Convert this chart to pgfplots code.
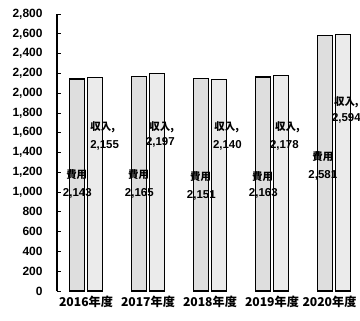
\documentclass[border=0pt]{standalone}
\usepackage{pgfplots}
\pgfplotsset{compat=1.18}
\usepackage{fontspec}
\setmainfont{Liberation Sans}
\newfontfamily\cjk{Noto Sans CJK JP}

\tikzset{
  lbl/.style={font=\cjk\bfseries\fontsize{10.5}{11}\selectfont, inner sep=0.5pt},
  num/.style={font=\bfseries\fontsize{11.5}{12}\selectfont, inner sep=0.5pt},
}

% 費用 (expenses) and 収入 (income) by fiscal year
\pgfplotstableread{
x exp inc
0 2143 2155
1 2165 2197
2 2151 2140
3 2163 2178
4 2581 2594
}\fintable

\begin{document}
\begin{tikzpicture}[x=1bp,y=1bp]
\useasboundingbox (-57bp,-30bp) rectangle (303bp,291bp);
\begin{axis}[
  at={(0,0)}, anchor=south west,
  scale only axis,
  width=303bp, height=277bp,
  xmin=-0.468, xmax=4.42,
  ymin=0, ymax=2800,
  axis y line=left,
  axis x line=bottom,
  x axis line style={draw=none},
  y axis line style={line width=1.3pt, -},
  xtick=data,
  xticklabels={2016年度,2017年度,2018年度,2019年度,2020年度\hspace*{9bp}},
  xticklabel style={font=\cjk\bfseries\fontsize{12.2}{13}\selectfont, yshift=-2bp},
  xtick style={draw=none},
  ytick={0,200,...,2800},
  scaled y ticks=false,
  tick align=inside,
  major tick length=4bp,
  ytick style={line width=0.8pt, black},
  yticklabel style={font=\bfseries\fontsize{12}{12}\selectfont, xshift=-11bp,
    /pgf/number format/1000 sep={,}},
  /pgf/number format/assume math mode=true,
  clip=false,
]
\addplot[ybar, bar width=0.24, bar shift=-0.145, fill=gray!26, draw=black, line width=1.1pt]
  table[x=x, y=exp] {\fintable};
\addplot[ybar, bar width=0.24, bar shift=0.145, fill=gray!16, draw=black, line width=1.1pt]
  table[x=x, y=inc] {\fintable};

% expense labels
\node[lbl] at (axis cs:-0.15,1173) {費用};
\node[num] at (axis cs:-0.14,991) {2,143};
\node[lbl] at (axis cs:0.85,1173) {費用};
\node[num] at (axis cs:0.86,991) {2,165};
\node[lbl] at (axis cs:1.85,1152) {費用};
\node[num] at (axis cs:1.86,970) {2,151};
\node[lbl] at (axis cs:2.85,1152) {費用};
\node[num] at (axis cs:2.86,985) {2,163};
\node[lbl] at (axis cs:3.82,1354) {費用};
\node[num] at (axis cs:3.82,1173) {2,581};
% income labels
\node[lbl] at (axis cs:0.27,1658) {収入,};
\node[num] at (axis cs:0.3,1476) {2,155};
\node[lbl] at (axis cs:1.22,1658) {収入,};
\node[num] at (axis cs:1.2,1506) {2,197};
\node[lbl] at (axis cs:2.27,1658) {収入,};
\node[num] at (axis cs:2.28,1476) {2,140};
\node[lbl] at (axis cs:3.25,1658) {収入,};
\node[num] at (axis cs:3.2,1476) {2,178};
\node[lbl] at (axis cs:4.2,1910) {収入,};
\node[num] at (axis cs:4.2,1749) {2,594};
\end{axis}
\end{tikzpicture}
\end{document}
